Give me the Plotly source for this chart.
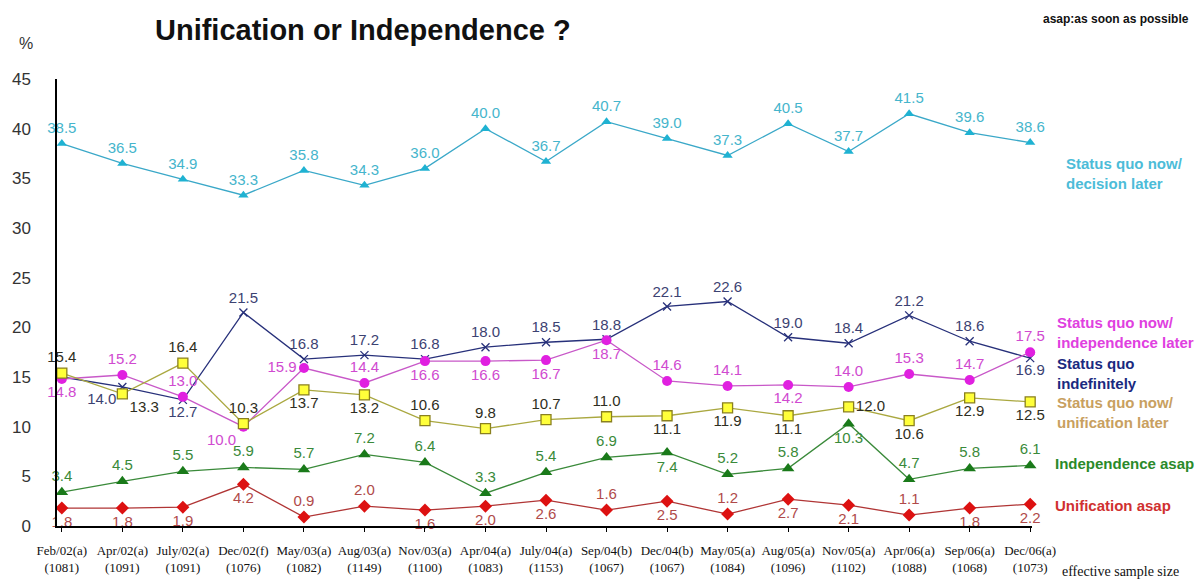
import plotly.graph_objects as go

surveys = ["Feb/02(a)", "Apr/02(a)", "July/02(a)", "Dec/02(f)", "May/03(a)", "Aug/03(a)",
           "Nov/03(a)", "Apr/04(a)", "July/04(a)", "Sep/04(b)", "Dec/04(b)", "May/05(a)",
           "Aug/05(a)", "Nov/05(a)", "Apr/06(a)", "Sep/06(a)", "Dec/06(a)"]
sample_sizes = [1081, 1091, 1091, 1076, 1082, 1149, 1100, 1083, 1153, 1067, 1067, 1084,
                1096, 1102, 1088, 1068, 1073]

decision_later = [38.5, 36.5, 34.9, 33.3, 35.8, 34.3, 36.0, 40.0, 36.7, 40.7, 39.0, 37.3,
                  40.5, 37.7, 41.5, 39.6, 38.6]
indefinitely = [15.0, 14.0, 12.7, 21.5, 16.8, 17.2, 16.8, 18.0, 18.5, 18.8, 22.1, 22.6,
                19.0, 18.4, 21.2, 18.6, 16.9]
independence_later = [14.8, 15.2, 13.0, 10.0, 15.9, 14.4, 16.6, 16.6, 16.7, 18.7, 14.6, 14.1,
                      14.2, 14.0, 15.3, 14.7, 17.5]
unification_later = [15.4, 13.3, 16.4, 10.3, 13.7, 13.2, 10.6, 9.8, 10.7, 11.0, 11.1, 11.9,
                     11.1, 12.0, 10.6, 12.9, 12.5]
independence_asap = [3.4, 4.5, 5.5, 5.9, 5.7, 7.2, 6.4, 3.3, 5.4, 6.9, 7.4, 5.2,
                     5.8, 10.3, 4.7, 5.8, 6.1]
unification_asap = [1.8, 1.8, 1.9, 4.2, 0.9, 2.0, 1.6, 2.0, 2.6, 1.6, 2.5, 1.2,
                    2.7, 2.1, 1.1, 1.8, 2.2]

T, B = "top center", "bottom center"
pos_decision = [T] * 17
pos_indef = ["bottom right", "bottom left", B, T, T, T, T, T, T, T, T, T, T, T, T, T, B]
pos_indlater = [B, T, T, "bottom left", "middle left", T, B, B, B, B, T, T, B, T, T, T, T]
pos_unilater = [T, "bottom right", T, T, B, B, T, T, T, T, B, B, B, "middle right", B, B, B]
pos_indasap = [T, T, T, T, T, T, T, T, T, T, B, T, T, B, T, T, T]
pos_uniasap = [B, B, B, B, T, T, B, B, B, T, B, T, B, B, T, B, B]

def labels(vals, hide=()):
    return ["" if i in hide else f"{v:.1f}" for i, v in enumerate(vals)]

series = [
    dict(name="Status quo now/decision later", y=decision_later, pos=pos_decision,
         line="#3aa8c8", mcolor="#1fb2d2", symbol="triangle-up", size=9, mline=None,
         tcolor="#45b5cc", hide=()),
    dict(name="Status quo indefinitely", y=indefinitely, pos=pos_indef,
         line="#27307a", mcolor="#27307a", symbol="x-thin", size=8, mline="#27307a",
         tcolor="#3c4272", hide=(0,)),
    dict(name="Status quo now/independence later", y=independence_later, pos=pos_indlater,
         line="#c858c8", mcolor="#e020e0", symbol="circle", size=10, mline=None,
         tcolor="#d04ad0", hide=()),
    dict(name="Status quo now/unification later", y=unification_later, pos=pos_unilater,
         line="#aaa840", mcolor="#ffff3a", symbol="square", size=10, mline="#8a8020",
         tcolor="#2e2e22", hide=()),
    dict(name="Independence asap", y=independence_asap, pos=pos_indasap,
         line="#3a8a3a", mcolor="#1a7a1a", symbol="triangle-up", size=11, mline=None,
         tcolor="#3a8a3a", hide=()),
    dict(name="Unification asap", y=unification_asap, pos=pos_uniasap,
         line="#b03535", mcolor="#dd1111", symbol="diamond", size=10, mline=None,
         tcolor="#b04a4a", hide=()),
]

fig = go.Figure()
for s in series:
    marker = dict(color=s["mcolor"], symbol=s["symbol"], size=s["size"])
    if s["mline"]:
        marker["line"] = dict(color=s["mline"], width=1.3)
    fig.add_trace(go.Scatter(
        x=surveys, y=s["y"], name=s["name"], mode="lines+markers+text",
        line=dict(color=s["line"], width=1.3), marker=marker,
        text=labels(s["y"], s["hide"]), textposition=s["pos"],
        textfont=dict(family="Liberation Sans, Arial", size=15, color=s["tcolor"]),
        cliponaxis=False, showlegend=False,
    ))

ticktext = [f"{s}<br>({n})" for s, n in zip(surveys, sample_sizes)]

W, H, L, R, TOP, BOT = 1195, 587, 52, 163, 79, 56
PW, PH = W - L - R, H - TOP - BOT

fig.update_layout(
    width=W, height=H, paper_bgcolor="white", plot_bgcolor="white",
    margin=dict(l=L, r=R, t=TOP, b=BOT),
    xaxis=dict(type="category", range=[-0.08, 16.03], tickmode="array",
               tickvals=surveys, ticktext=ticktext, showgrid=False, zeroline=False,
               showline=True, linecolor="black", linewidth=1.5,
               ticks="outside", ticklen=4, tickcolor="black",
               tickfont=dict(family="Liberation Serif, Times New Roman", size=13, color="#111"),
               ticklabelstandoff=8),
    yaxis=dict(range=[0, 45], tickvals=[0, 5, 10, 15, 20, 25, 30, 35, 40, 45],
               showgrid=False, zeroline=False, showline=True, linecolor="black",
               linewidth=1.5, ticks="", ticklabelstandoff=21,
               tickfont=dict(family="Liberation Sans, Arial", size=17, color="#333")),
)

ann = [
    dict(text="<b>Unification or Independence ?</b>", x=148, y=29, size=29, color="#111", anchor="left"),
    dict(text="%", x=12, y=43, size=16, color="#333", anchor="left"),
    dict(text="<b>asap:as soon as possible</b>", x=1192, y=18, size=12, color="#111", anchor="right"),
    dict(text="<b>Status quo now/<br>decision later</b>", x=1064, y=175, size=15, color="#4cbcd8", anchor="left"),
    dict(text="<b>Status quo now/<br>independence later</b>", x=1055, y=335, size=15, color="#e040e0", anchor="left"),
    dict(text="<b>Status quo<br>indefinitely</b>", x=1055, y=377, size=15, color="#1a2a80", anchor="left"),
    dict(text="<b>Status quo now/<br>unification later</b>", x=1055, y=416, size=15, color="#c8a060", anchor="left"),
    dict(text="<b>Independence asap</b>", x=1053, y=468, size=15, color="#2a8a2a", anchor="left"),
    dict(text="<b>Unification asap</b>", x=1053, y=510, size=15, color="#d03030", anchor="left"),
]
for a in ann:
    fig.add_annotation(text=a["text"], xref="paper", yref="paper",
                       x=(a["x"] - L) / PW, y=(H - BOT - a["y"]) / PH,
                       xanchor=a["anchor"], yanchor="middle", showarrow=False, align="left",
                       font=dict(family="Liberation Sans, Arial", size=a["size"], color=a["color"]))

fig.add_annotation(text="effective sample size", xref="paper", yref="paper",
                   x=(1060 - L) / PW, y=(H - BOT - 577) / PH, xanchor="left", yanchor="middle",
                   showarrow=False,
                   font=dict(family="Liberation Serif, Times New Roman", size=14, color="#111"))

fig.write_html("out.html", config={"displayModeBar": False},
               post_script="document.body.style.margin='0';document.body.style.overflow='hidden';")
